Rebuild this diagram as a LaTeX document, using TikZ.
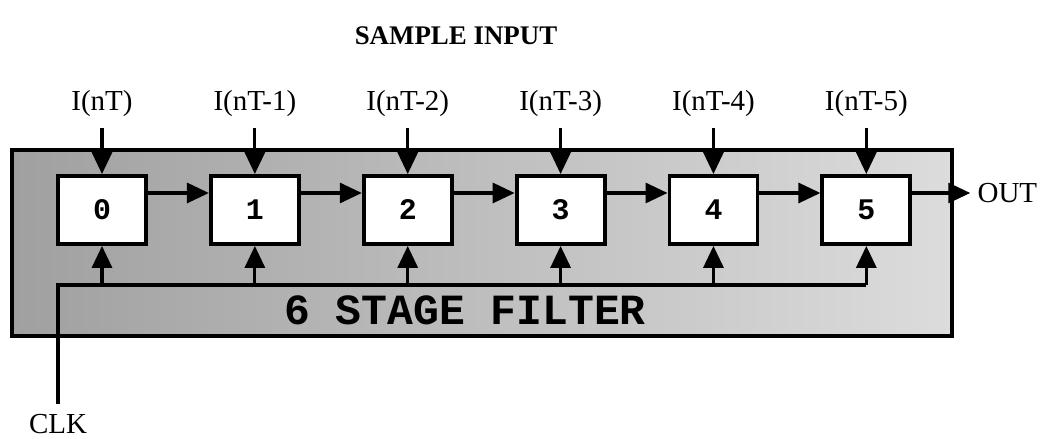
\documentclass[tikz,border=0pt]{standalone}
\usepackage{fontspec}
\setmainfont{Liberation Serif}
\setmonofont{Liberation Mono}
\usetikzlibrary{arrows.meta,positioning,calc}
\definecolor{shadedark}{HTML}{A0A0A0}
\definecolor{shadelight}{HTML}{DCDCDC}
\tikzset{
  >=Triangle,
  stagebox/.style={
    rectangle, draw=black, line width=2.2pt, fill=white,
    minimum width=1.76cm, minimum height=1.36cm, inner sep=0pt,
    font=\ttfamily\bfseries\fontsize{17}{20}\selectfont
  },
  housing/.style={draw=black, line width=2.2pt, left color=shadedark, right color=shadelight},
  sig/.style={font=\fontsize{16.5}{19}\selectfont, inner sep=1pt},
  heading/.style={font=\bfseries\fontsize{15.3}{18}\selectfont},
  banner/.style={font=\ttfamily\bfseries\fontsize{24.5}{28}\selectfont},
  arrow/.style={-{Triangle[length=0.44cm,width=0.4cm]}, line width=1.8pt},
  wire/.style={line width=1.8pt}
}

\begin{document}
\begin{tikzpicture}[node distance=1.22cm]
\useasboundingbox (0,0) rectangle (20.8,8.78);
% filter housing
\draw[housing] (0.24,2.06) rectangle (19.04,5.78);
\node[heading] (title) at (9.12,8.06) {SAMPLE INPUT};
\node[banner] (name) at (9.30,2.58) {6 STAGE FILTER};
% stages and their sample inputs
\node[stagebox] (s0) at (2.04,4.58) {0};
\node[sig, above=1.1cm of s0] (i0) {I(nT)};
\draw[arrow, shorten <=0.18cm] (i0.south) -- (s0.north);
\foreach \i [count=\j from 0] in {1,...,5}{
  \node[stagebox, right=of s\j] (s\i) {\i};
  \node[sig, above=1.1cm of s\i] (i\i) {I(nT-\i)};
  \draw[arrow, shorten <=0.18cm] (i\i.south) -- (s\i.north);
  \draw[arrow] ([yshift=0.34cm]s\j.east) -- ([yshift=0.34cm]s\i.west);
}
% output
\node[sig, anchor=west, inner sep=0pt] (out) at ([xshift=1.3cm,yshift=0.34cm]s5.east) {OUT};
\draw[arrow, shorten >=0.14cm] ([yshift=0.34cm]s5.east) -- (out.west);
% clock bus
\node[sig] (clk) at (1.16,0.30) {CLK};
\coordinate (bus) at (1.16,3.08);
\draw[wire, shorten <=0.17cm] (clk.north) -- (bus) -- (s5.south |- bus);
\foreach \i in {0,...,5}
  \draw[arrow] (s\i.south |- bus) -- (s\i.south);
\end{tikzpicture}
\end{document}
